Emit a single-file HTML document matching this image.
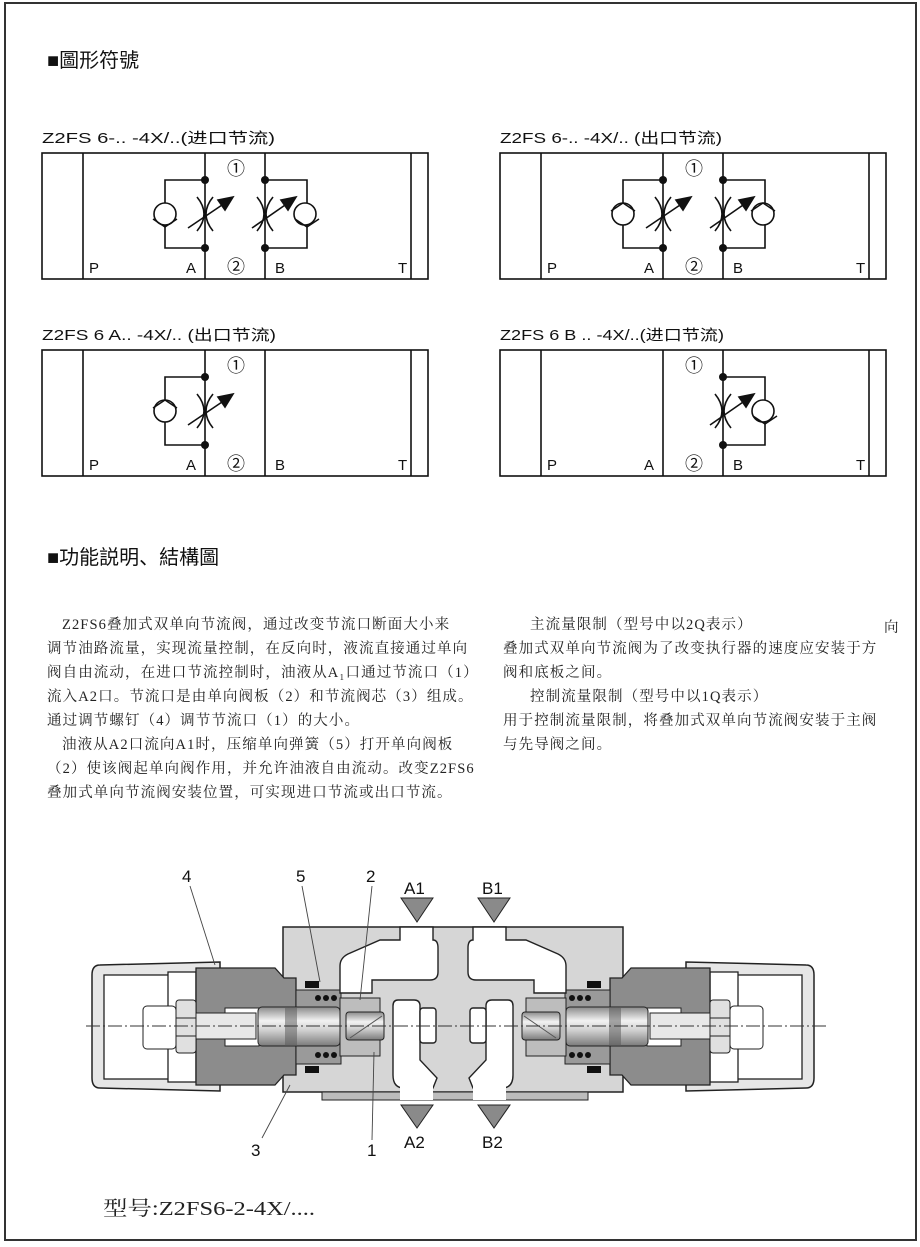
<!DOCTYPE html>
<html><head><meta charset="utf-8"><style>
html,body{margin:0;padding:0;background:#fff;}
svg{display:block;}
.t{font-family:"Liberation Sans","Noto Sans CJK SC",sans-serif;fill:#111;}
.s{font-family:"Liberation Serif","Noto Serif CJK SC",serif;fill:#222;}
</style></head><body>
<svg width="920" height="1247" viewBox="0 0 920 1247" xmlns="http://www.w3.org/2000/svg">
<defs>
<linearGradient id="cyl" x1="0" y1="0" x2="0" y2="1">
<stop offset="0" stop-color="#8a8a8a"/><stop offset="0.35" stop-color="#f2f2f2"/><stop offset="0.6" stop-color="#d0d0d0"/><stop offset="1" stop-color="#7a7a7a"/></linearGradient>
<g id="thr" stroke="#111" fill="none" stroke-width="1.6">
<path d="M-8,-17 Q6,0 -8,17"/><path d="M8,-17 Q-6,0 8,17"/>
</g>
<g id="L" stroke="#111" fill="none" stroke-width="1.6">
<polyline points="0,27 -40,27 -40,95 0,95"/>
<circle cx="-40" cy="61" r="11" fill="#fff"/>
<use href="#thr" x="0" y="61"/>
<line x1="-17" y1="75" x2="20" y2="50"/>
<polygon points="28,44 13,47 20,57" fill="#111"/>
<circle cx="0" cy="27" r="4" fill="#111" stroke="none"/>
<circle cx="0" cy="95" r="4" fill="#111" stroke="none"/>
</g>
<g id="R" stroke="#111" fill="none" stroke-width="1.6">
<polyline points="0,27 42,27 42,95 0,95"/>
<circle cx="40" cy="61" r="11" fill="#fff"/>
<use href="#thr" x="0" y="61"/>
<line x1="-13" y1="75" x2="23" y2="50"/>
<polygon points="31,44 16,47 23,57" fill="#111"/>
<circle cx="0" cy="27" r="4" fill="#111" stroke="none"/>
<circle cx="0" cy="95" r="4" fill="#111" stroke="none"/>
</g>
<g id="box" stroke="#111" fill="none" stroke-width="1.6">
<rect x="0" y="0" width="386" height="126" fill="#fff"/>
<line x1="41" y1="0" x2="41" y2="126"/>
<line x1="163" y1="0" x2="163" y2="126"/>
<line x1="223" y1="0" x2="223" y2="126"/>
<line x1="369" y1="0" x2="369" y2="126"/>
</g>
<g id="lbl">
<text class="t" x="47" y="120" font-size="15">P</text>
<text class="t" x="144" y="120" font-size="15">A</text>
<text class="t" x="233" y="120" font-size="15">B</text>
<text class="t" x="356" y="120" font-size="15">T</text>
<text class="t" x="185" y="22" font-size="18">①</text>
<text class="t" x="185" y="120" font-size="18">②</text>
</g>
<g id="half">
<path d="M100,965 L220,962 L220,1091 L100,1088 Q92,1088 92,1078 L92,975 Q92,965 100,965 Z" fill="#e6e6e6" stroke="#222" stroke-width="1.5"/>
<rect x="104" y="975" width="70" height="104" fill="#fff" stroke="#222" stroke-width="1.3"/>
<rect x="168" y="972" width="28" height="110" fill="#fff" stroke="#222" stroke-width="1.3"/>
<path d="M196,968 L275,968 L284,978 L296,978 L296,1075 L284,1075 L275,1085 L196,1085 Z" fill="#8c8c8c" stroke="#222" stroke-width="1.3"/>
<rect x="225" y="1008" width="34" height="38" fill="#fff" stroke="#222"/>
<rect x="196" y="1013" width="60" height="26" fill="#e8e8e8" stroke="#222"/>
<rect x="143" y="1006" width="33" height="43" rx="4" fill="#fff" stroke="#222"/>
<rect x="176" y="1000" width="20" height="53" rx="3" fill="#e0e0e0" stroke="#222"/>
<line x1="176" y1="1018" x2="196" y2="1018" stroke="#222"/><line x1="176" y1="1036" x2="196" y2="1036" stroke="#222"/>
<rect x="296" y="990" width="45" height="74" fill="#9a9a9a" stroke="#222"/>
<rect x="258" y="1007" width="82" height="39" rx="4" fill="url(#cyl)" stroke="#222"/>
<rect x="285" y="1007" width="12" height="39" fill="#555" opacity="0.5"/>
<rect x="340" y="998" width="40" height="58" fill="#bdbdbd" stroke="#222"/>
<rect x="346" y="1012" width="38" height="28" rx="3" fill="url(#cyl)" stroke="#222"/>
<line x1="350" y1="1038" x2="382" y2="1016" stroke="#555"/>
<g fill="#111">
<rect x="305" y="981" width="14" height="7"/><rect x="305" y="1066" width="14" height="7"/>
<circle cx="318" cy="998" r="3"/><circle cx="326" cy="998" r="3"/><circle cx="334" cy="998" r="3"/>
<circle cx="318" cy="1055" r="3"/><circle cx="326" cy="1055" r="3"/><circle cx="334" cy="1055" r="3"/>
</g>
</g>
</defs>

<rect x="5" y="3" width="911" height="1237" fill="#fff" stroke="#333" stroke-width="2"/>

<text class="t" x="47" y="67" font-size="20">■圖形符號</text>

<text class="t" x="42" y="143" font-size="15" textLength="233" lengthAdjust="spacingAndGlyphs">Z2FS 6-.. -4X/..(进口节流)</text>
<g transform="translate(42,153)"><use href="#box"/><use href="#lbl"/></g>
<use href="#L" x="205" y="153"/><use href="#R" x="265" y="153"/>
<polyline points="153,219 165,227 177,219" fill="none" stroke="#111" stroke-width="1.5"/>
<polyline points="295,219 307,227 319,219" fill="none" stroke="#111" stroke-width="1.5"/>

<text class="t" x="500" y="143" font-size="15" textLength="222" lengthAdjust="spacingAndGlyphs">Z2FS 6-.. -4X/.. (出口节流)</text>
<g transform="translate(500,153)"><use href="#box"/><use href="#lbl"/></g>
<use href="#L" x="663" y="153"/><use href="#R" x="723" y="153"/>
<polyline points="611,211 623,203 635,211" fill="none" stroke="#111" stroke-width="1.5"/>
<polyline points="751,211 763,203 775,211" fill="none" stroke="#111" stroke-width="1.5"/>

<text class="t" x="42" y="340" font-size="15" textLength="234" lengthAdjust="spacingAndGlyphs">Z2FS 6 A.. -4X/.. (出口节流)</text>
<g transform="translate(42,350)"><use href="#box"/><use href="#lbl"/></g>
<use href="#L" x="205" y="350"/>
<polyline points="153,408 165,400 177,408" fill="none" stroke="#111" stroke-width="1.5"/>

<text class="t" x="500" y="340" font-size="15" textLength="224" lengthAdjust="spacingAndGlyphs">Z2FS 6 B .. -4X/..(进口节流)</text>
<g transform="translate(500,350)"><use href="#box"/><use href="#lbl"/></g>
<use href="#R" x="723" y="350"/>
<polyline points="753,416 765,424 777,416" fill="none" stroke="#111" stroke-width="1.5"/>

<text class="t" x="47" y="564" font-size="20">■功能説明、結構圖</text>

<g class="s" font-size="14.5" letter-spacing="1.1">
<text x="62" y="629">Z2FS6叠加式双单向节流阀，通过改变节流口断面大小来</text>
<text x="47" y="653">调节油路流量，实现流量控制，在反向时，液流直接通过单向</text>
<text x="47" y="677">阀自由流动，在进口节流控制时，油液从A₁口通过节流口（1）</text>
<text x="47" y="701">流入A2口。节流口是由单向阀板（2）和节流阀芯（3）组成。</text>
<text x="47" y="725">通过调节螺钉（4）调节节流口（1）的大小。</text>
<text x="62" y="749">油液从A2口流向A1时，压缩单向弹簧（5）打开单向阀板</text>
<text x="47" y="773">（2）使该阀起单向阀作用，并允许油液自由流动。改变Z2FS6</text>
<text x="47" y="797">叠加式单向节流阀安装位置，可实现进口节流或出口节流。</text>
<text x="530" y="629">主流量限制（型号中以2Q表示）</text>
<text x="884" y="632">向</text>
<text x="503" y="653">叠加式双单向节流阀为了改变执行器的速度应安装于方</text>
<text x="503" y="677">阀和底板之间。</text>
<text x="530" y="701">控制流量限制（型号中以1Q表示）</text>
<text x="503" y="725">用于控制流量限制，将叠加式双单向节流阀安装于主阀</text>
<text x="503" y="749">与先导阀之间。</text>
</g>

<rect x="283" y="927" width="340" height="165" fill="#d6d6d6" stroke="#222" stroke-width="1.5"/>
<rect x="322" y="1092" width="266" height="8" fill="#bcbcbc" stroke="#222"/>
<use href="#half"/>
<use href="#half" transform="translate(906,0) scale(-1,1)"/>
<g id="pass" fill="#fff" stroke="#222" stroke-width="1.4">
<path d="M400,927 L433,927 L433,940 Q438,940 438,948 L438,972 Q438,980 430,980 L372,980 L372,993 L340,993 L340,966 Q340,958 348,954 L380,940 L400,940 Z"/>
<path d="M398,1000 Q393,1000 393,1006 L393,1075 Q393,1088 404,1088 L433,1088 L437,1078 L420,1060 L420,1006 Q420,1000 414,1000 Z"/>
<rect x="420" y="1008" width="16" height="35" rx="3"/>
<rect x="400" y="1085" width="33" height="15" fill="#fff" stroke="none"/>
</g>
<use href="#pass" transform="translate(906,0) scale(-1,1)"/>
<line x1="86" y1="1026" x2="828" y2="1026" stroke="#333" stroke-width="1" stroke-dasharray="14,3,2,3"/>

<g fill="#8a8a8a" stroke="#222">
<polygon points="401,898 433,898 417,922"/><polygon points="478,898 510,898 494,922"/>
<polygon points="401,1105 433,1105 417,1128"/><polygon points="478,1105 510,1105 494,1128"/>
</g>
<g class="t" font-size="17">
<text x="404" y="894">A1</text><text x="482" y="894">B1</text>
<text x="404" y="1148">A2</text><text x="482" y="1148">B2</text>
<text x="182" y="882">4</text><text x="296" y="882">5</text><text x="366" y="882">2</text>
<text x="251" y="1156">3</text><text x="367" y="1156">1</text>
</g>
<g stroke="#444" stroke-width="0.9">
<line x1="190" y1="886" x2="215" y2="965"/>
<line x1="302" y1="886" x2="320" y2="982"/>
<line x1="372" y1="886" x2="360" y2="1000"/>
<line x1="262" y1="1138" x2="290" y2="1085"/>
<line x1="372" y1="1140" x2="374" y2="1052"/>
</g>

<text class="s" x="103" y="1215" font-size="20" textLength="212" lengthAdjust="spacingAndGlyphs">型号:Z2FS6-2-4X/....</text>
</svg>
</body></html>
